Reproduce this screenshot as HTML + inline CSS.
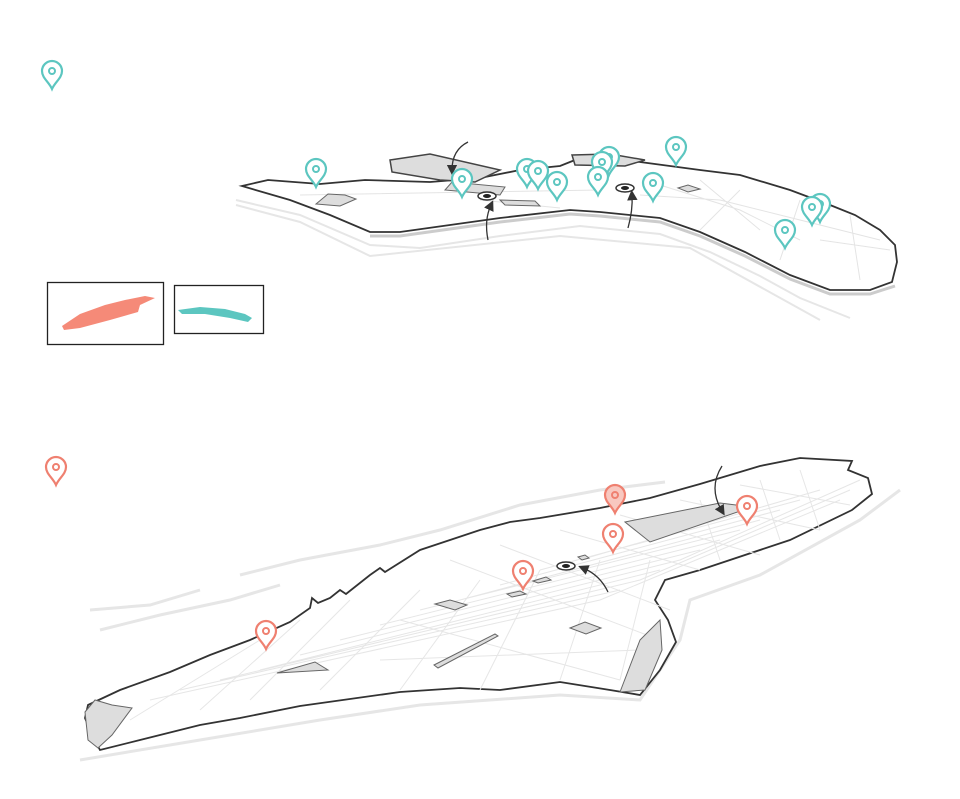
<!DOCTYPE html>
<html><head><meta charset="utf-8"><style>
html,body{margin:0;padding:0;background:#fff;width:960px;height:799px;overflow:hidden}
svg{display:block}
</style></head><body>
<svg width="960" height="799" viewBox="0 0 960 799" xmlns="http://www.w3.org/2000/svg">
<defs>
<g id="pinT"><path d="M0,0 C-3,-7 -10,-11 -10,-18 A10,10 0 1,1 10,-18 C10,-11 3,-7 0,0 Z" fill="#fff" stroke="#5cc6c0" stroke-width="2.2"/><circle cx="0" cy="-18" r="3" fill="none" stroke="#5cc6c0" stroke-width="2"/></g>
<g id="pinR"><path d="M0,0 C-3,-7 -10,-11 -10,-18 A10,10 0 1,1 10,-18 C10,-11 3,-7 0,0 Z" fill="#fff" stroke="#ef8070" stroke-width="2.2"/><circle cx="0" cy="-18" r="3" fill="none" stroke="#ef8070" stroke-width="2"/></g>
<marker id="ah" markerWidth="8" markerHeight="8" refX="4" refY="4" orient="auto"><path d="M0,0 L8,4 L0,8 Z" fill="#333"/></marker>
</defs>

<!-- TOP MAP -->
<g fill="none" stroke="#e6e6e6" stroke-width="2">
<path d="M236,200 L300,215 L370,245 L420,248 L500,236 L580,226 L660,234 L710,252 L760,276 L800,298 L850,318"/>
<path d="M236,205 L300,222 L370,256 L560,236 L690,248 L820,320"/>
</g>
<path d="M242,186 L268,180 L320,184 L365,180 L430,182 L480,178 L520,170 L560,166 L575,160 L590,155 L640,162 L700,170 L740,175 L790,190 L830,205 L855,215 L880,230 L895,245 L897,262 L892,282 L870,290 L830,290 L790,275 L745,252 L700,232 L660,218 L600,212 L570,210 L500,218 L400,232 L370,232 L330,215 L290,200 Z" fill="#fff" stroke="#333" stroke-width="1.8"/>
<path d="M370,236 L400,236 L500,222 L570,214 L600,216 L660,222 L700,236 L745,256 L790,279 L830,294 L870,294 L895,286" fill="none" stroke="#ccc" stroke-width="3"/>
<g stroke="#e4e4e4" stroke-width="1" fill="none">
<path d="M300,195 L600,190 M480,200 L560,208 M640,195 L720,200 L800,220 L880,240 M700,180 L760,230 M740,190 L700,230 M800,200 L780,260 M820,240 L890,250 M850,215 L860,280 M660,185 L740,210 L800,240"/>
</g>
<path d="M390,160 L430,154 L500,170 L475,182 L440,180 L392,172 Z" fill="#ddd" stroke="#444" stroke-width="1.5"/>
<path d="M445,190 L452,182 L505,187 L500,195 Z" fill="#ddd" stroke="#666"/>
<path d="M500,200 L535,201 L540,206 L505,205 Z" fill="#ddd" stroke="#666"/>
<path d="M572,155 L610,154 L645,160 L625,166 L575,165 Z" fill="#ddd" stroke="#444" stroke-width="1.5"/>
<path d="M316,204 L328,194 L345,195 L356,199 L340,206 Z" fill="#ddd" stroke="#666"/>
<path d="M678,188 L688,185 L700,189 L688,192 Z" fill="#ddd" stroke="#666"/>
<ellipse cx="487" cy="196" rx="9" ry="4" fill="#fff" stroke="#333" stroke-width="1.5"/><ellipse cx="487" cy="196" rx="4" ry="2" fill="#222"/>
<ellipse cx="625" cy="188" rx="9" ry="4" fill="#fff" stroke="#333" stroke-width="1.5"/><ellipse cx="625" cy="188" rx="4" ry="2" fill="#222"/>
<g fill="none" stroke="#333" stroke-width="1.3" marker-end="url(#ah)">
<path d="M468,142 Q452,150 452,170"/>
<path d="M488,240 Q484,220 491,205"/>
<path d="M628,228 Q633,210 632,195"/>
</g>
<use href="#pinT" x="316" y="187"/><use href="#pinT" x="462" y="197"/>
<use href="#pinT" x="527" y="187"/><use href="#pinT" x="538" y="189"/>
<use href="#pinT" x="557" y="200"/><use href="#pinT" x="609" y="175"/>
<use href="#pinT" x="602" y="180"/><use href="#pinT" x="598" y="195"/>
<use href="#pinT" x="653" y="201"/><use href="#pinT" x="676" y="165"/>
<use href="#pinT" x="820" y="222"/><use href="#pinT" x="812" y="225"/>
<use href="#pinT" x="785" y="248"/>
<use href="#pinT" x="52" y="89"/>

<!-- legend boxes -->
<rect x="47.5" y="282.5" width="116" height="62" fill="#fff" stroke="#222" stroke-width="1.3"/>
<path d="M62,326 L80,314 L105,305 L125,300 L145,296 L155,298 L140,305 L138,312 L110,320 L80,328 L64,330 Z" fill="#f58a78"/>
<rect x="174.5" y="285.5" width="89" height="48" fill="#fff" stroke="#222" stroke-width="1.3"/>
<path d="M178,310 L200,307 L225,309 L245,314 L252,318 L248,322 L230,318 L205,314 L182,314 Z" fill="#5cc6c0"/>

<!-- BOTTOM MAP -->
<g fill="none" stroke="#e6e6e6" stroke-width="3">
<path d="M240,575 L300,560 L380,545 L440,530 L520,505 L600,490 L665,482"/>
<path d="M100,630 L160,615 L230,600 L280,585"/>
<path d="M90,610 L150,605 L200,590"/>
<path d="M80,760 L200,740 L320,720 L420,705 L560,695 L640,700 L680,640 L690,600 L760,575 L860,520 L900,490"/>
</g>
<path d="M88,705 L120,690 L170,672 L210,655 L250,640 L290,622 L310,608 L312,598 L318,603 L330,598 L340,590 L346,594 L370,575 L380,568 L385,572 L420,550 L450,540 L480,530 L510,522 L540,518 L600,508 L650,498 L700,484 L760,466 L800,458 L852,461 L848,470 L868,478 L872,494 L852,510 L790,540 L700,570 L665,580 L655,600 L668,620 L676,642 L660,670 L640,695 L610,690 L560,682 L500,690 L460,688 L400,692 L300,706 L240,718 L200,725 L140,740 L100,750 L92,735 L85,718 Z" fill="#fff" stroke="#333" stroke-width="1.8"/>
<g stroke="#e6e6e6" stroke-width="1" fill="none">
<path d="M150,700 L600,600 L840,500 M180,690 L620,590 M220,680 L640,580 L850,490 M260,670 L660,570 M300,655 L680,560 L860,480 M340,640 L700,550 M380,625 L720,540 M420,610 L740,530 M460,600 L760,520 M500,585 L780,510 M540,570 L800,500 M580,560 L820,490"/>
<path d="M250,700 L350,600 M320,690 L420,590 M400,690 L480,580 M480,690 L540,570 M560,680 L600,560 M620,680 L650,560 M700,500 L720,560 M760,480 L780,540 M800,470 L820,530 M400,620 L620,680 M380,660 L640,650"/>
<path d="M450,560 L660,640 M500,545 L670,610 M560,530 L700,570 M620,515 L760,555 M680,500 L820,530 M740,485 L850,505 M130,720 L260,640 M200,710 L300,620"/>
</g>
<path d="M625,522 L720,503 L752,507 L650,542 Z" fill="#ddd" stroke="#666"/>
<path d="M620,692 L640,640 L660,620 L662,650 L645,690 Z" fill="#ddd" stroke="#666"/>
<path d="M85,712 L95,700 L112,705 L132,708 L112,735 L98,748 L88,740 Z" fill="#ddd" stroke="#666"/>
<path d="M277,673 L315,662 L328,670 Z" fill="#ddd" stroke="#666"/>
<path d="M435,604 L450,600 L467,605 L455,610 Z" fill="#ddd" stroke="#666"/>
<path d="M570,628 L585,622 L601,628 L586,634 Z" fill="#ddd" stroke="#666"/>
<path d="M434,665 L495,634 L498,636 L438,668 Z" fill="#ddd" stroke="#666"/>
<path d="M507,594 L520,591 L526,594 L512,597 Z" fill="#ddd" stroke="#666"/>
<path d="M533,581 L546,577 L551,580 L538,583 Z" fill="#ddd" stroke="#666"/>
<path d="M578,557 L585,555 L589,558 L582,560 Z" fill="#ddd" stroke="#666"/>
<ellipse cx="566" cy="566" rx="9" ry="4" fill="#fff" stroke="#333" stroke-width="1.5"/><ellipse cx="566" cy="566" rx="4" ry="2" fill="#222"/>
<g fill="none" stroke="#333" stroke-width="1.3" marker-end="url(#ah)">
<path d="M608,592 Q600,575 583,568"/>
<path d="M722,466 Q708,488 722,511"/>
</g>
<use href="#pinR" x="266" y="649"/><use href="#pinR" x="523" y="589"/>
<use href="#pinR" x="613" y="552"/><use href="#pinR" x="747" y="524"/>
<g transform="translate(615,513)"><path d="M0,0 C-3,-7 -10,-11 -10,-18 A10,10 0 1,1 10,-18 C10,-11 3,-7 0,0 Z" fill="#f8c8c0" stroke="#ef8070" stroke-width="2.2"/><circle cx="0" cy="-18" r="3" fill="none" stroke="#ef8070" stroke-width="2"/></g>
<use href="#pinR" x="56" y="485"/>
</svg>
</body></html>
